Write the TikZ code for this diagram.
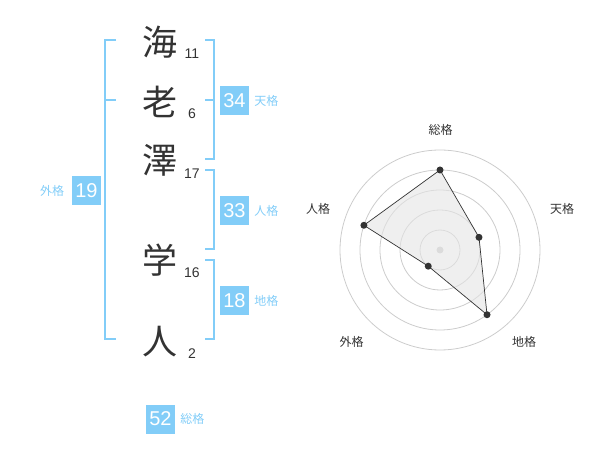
\documentclass[tikz,border=0pt]{standalone}
\usepackage{fontspec}
\setmainfont{Liberation Sans}
\newfontfamily\jpfont{Noto Sans CJK JP}
\definecolor{kakublue}{HTML}{82CDF8}
\definecolor{namegray}{HTML}{333333}
\definecolor{ringgray}{HTML}{CCCCCC}
\usetikzlibrary{positioning}

\begin{document}
\begin{tikzpicture}
  [x=1pt, y=-1pt,
   kanji/.style={font=\jpfont\fontsize{35}{35}\selectfont, text=namegray, inner sep=0pt},
   strokes/.style={font=\fontsize{14}{14}\selectfont, text=namegray, inner sep=0pt},
   kakubox/.style={fill=kakublue, text=white, minimum width=29pt, minimum height=29pt, inner sep=0pt, font=\fontsize{20}{20}\selectfont},
   kakulabel/.style={font=\jpfont\fontsize{12}{12}\selectfont, text=kakublue, inner sep=0pt},
   bracket/.style={draw=kakublue, line width=2pt},
   ring/.style={draw=ringgray, line width=0.8pt},
   axislabel/.style={font=\jpfont\fontsize{12}{12}\selectfont, text=namegray, inner sep=0pt},
   point/.style={shape=circle, fill=namegray, inner sep=0pt, minimum size=7pt}]
  \useasboundingbox (0, 0) rectangle (600, 470);
  % name
  \node (k1) [kanji] at (160, 42) {海};
  \node (k2) [kanji] at (160, 102) {老};
  \node (k3) [kanji] at (160, 160) {澤};
  \node (k4) [kanji] at (160, 260) {学};
  \node (k5) [kanji] at (160, 342) {人};
  \node (s1) [strokes] at (192, 53.5) {11};
  \node (s2) [strokes] at (192, 113.5) {6};
  \node (s3) [strokes] at (192, 173.5) {17};
  \node (s4) [strokes] at (192, 273) {16};
  \node (s5) [strokes] at (192, 353.5) {2};
  % brackets
  \draw [bracket] (116, 40) -- (105, 40) -- (105, 339) -- (116, 339);
  \draw [bracket] (105, 100) -- (116, 100);
  \draw [bracket] (205, 40) -- (214, 40) -- (214, 159) -- (205, 159);
  \draw [bracket] (205, 100) -- (214, 100);
  \draw [bracket] (205, 170) -- (214, 170) -- (214, 249) -- (205, 249);
  \draw [bracket] (205, 260) -- (214, 260) -- (214, 339) -- (205, 339);
  % scores
  \node (ten) [kakubox] at (234.5, 100.5) {34};
  \node (tenl) [kakulabel, right=5pt of ten] {天格};
  \node (jin) [kakubox] at (234.5, 210.5) {33};
  \node (jinl) [kakulabel, right=5pt of jin] {人格};
  \node (chi) [kakubox] at (234.5, 300.5) {18};
  \node (chil) [kakulabel, right=5pt of chi] {地格};
  \node (gai) [kakubox] at (86.5, 190.5) {19};
  \node (gail) [kakulabel, left=7.5pt of gai] {外格};
  \node (sou) [kakubox] at (160.5, 419) {52};
  \node (soul) [kakulabel, right=5pt of sou] {総格};
  % radar
  \begin{scope}[shift={(440, 250)}, yscale=-1]
    \foreach \r in {20, 40, 60, 80, 100}
      \draw [ring] (0, 0) circle [radius=\r];
    \fill [ringgray] (0, 0) circle [radius=3.5];
    \coordinate (rsou) at (90:80);
    \coordinate (rten) at (18:41);
    \coordinate (rchi) at (-54:80);
    \coordinate (rgai) at (-126:20);
    \coordinate (rjin) at (162:80);
    \draw [fill=black!10, fill opacity=0.6, draw=namegray, line width=0.7pt]
      (rsou) -- (rten) -- (rchi) -- (rgai) -- (rjin) -- cycle;
    \foreach \p in {rsou, rten, rchi, rgai, rjin}
      \node [point] at (\p) {};
  \end{scope}
  \node (asou) [axislabel] at (440.5, 130) {総格};
  \node (aten) [axislabel] at (562, 208.5) {天格};
  \node (ajin) [axislabel] at (318, 208.5) {人格};
  \node (agai) [axislabel] at (351.5, 342) {外格};
  \node (achi) [axislabel] at (524, 342) {地格};
\end{tikzpicture}
\end{document}
